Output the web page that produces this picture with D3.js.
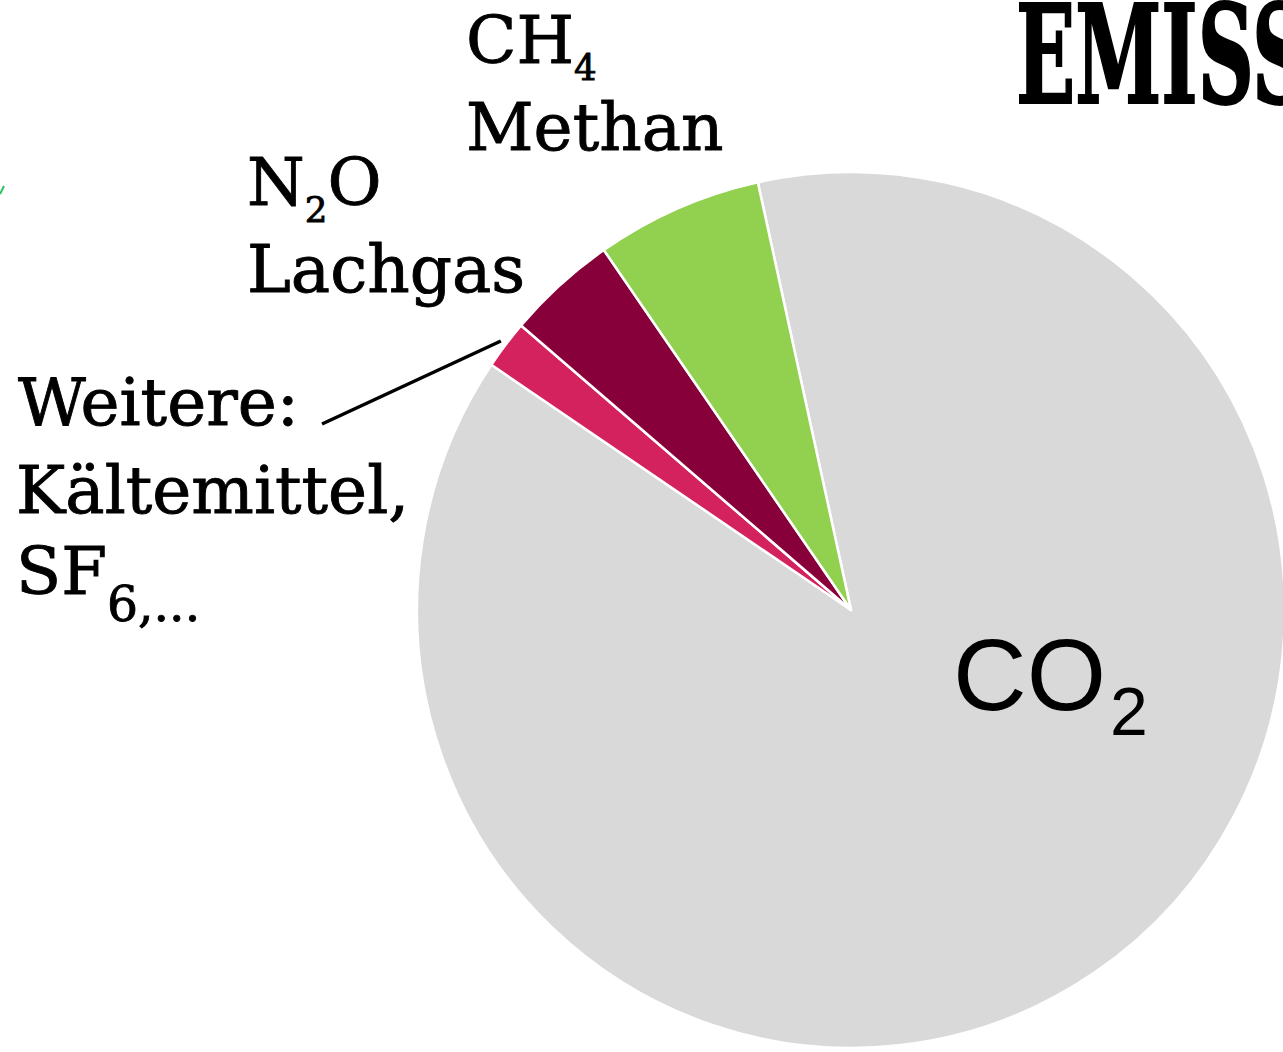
<!DOCTYPE html>
<html>
<head>
<meta charset="utf-8">
<script src="https://cdn.jsdelivr.net/npm/d3@7"></script>
<style>
  html, body { margin: 0; padding: 0; background: #ffffff; overflow: hidden; }
  svg { display: block; }
</style>
</head>
<body>
<script>
// ---- data ----
const categories = ["CO2", "Weitere", "N2O", "CH4"];
const values     = [87.9, 1.8, 4.1, 6.2];   // share in %
const colors     = ["#d9d9d9", "#d4225e", "#88003a", "#92d050"];
const titleText  = "EMISS";

const W = 1283, H = 1052;
const svg = d3.select("body").append("svg").attr("width", W).attr("height", H);

const cx = 851, cy = 610, rx = 434, ry = 438;
const startDeg = -12.4;
const start = startDeg * Math.PI / 180;

const pie = d3.pie().sort(null).value(d => d.v)
  .startAngle(start).endAngle(start + 2 * Math.PI);
const data = categories.map((c, i) => ({ c, v: values[i], col: colors[i] }));
const arcs = pie(data);
const arc = d3.arc().innerRadius(0).outerRadius(rx);

const g = svg.append("g")
  .attr("transform", `translate(${cx},${cy}) scale(1,${ry / rx})`);
g.selectAll("path").data(arcs).join("path")
  .attr("d", arc)
  .attr("fill", d => d.data.col)
  .attr("stroke", "#ffffff")
  .attr("stroke-width", 2.5)
  .attr("stroke-linejoin", "round");

// ---- labels ----
const serif = "'DejaVu Serif', serif";
function label(x, y, parts, size, subScale, subDy) {
  const t = svg.append("text").attr("x", x).attr("y", y)
    .attr("font-family", serif).attr("font-size", size).attr("fill", "#000")
    .attr("stroke", "#000").attr("stroke-width", 0.9);
  parts.forEach(p => {
    if (p.sub) {
      t.append("tspan").text(p.t).attr("font-size", size * subScale).attr("dy", subDy);
    } else {
      t.append("tspan").text(p.t).attr("dy", p.back ? -subDy : 0);
    }
  });
  return t;
}

label(466, 63, [{ t: "CH" }, { t: "4", sub: true }], 66, 0.54, 17);
label(466, 150, [{ t: "Methan" }], 66);
label(247, 205, [{ t: "N" }, { t: "2", sub: true }, { t: "O", back: true }], 66, 0.54, 17);
label(247, 292, [{ t: "Lachgas" }], 66);
label(18, 425, [{ t: "Weitere:" }], 66);
label(16, 513, [{ t: "Kältemittel," }], 66);
label(16, 594, [{ t: "SF" }, { t: "6,...", sub: true }], 66, 0.74, 27);

// CO2 label (sans)
const co = svg.append("text").attr("x", 953).attr("y", 710)
  .attr("font-family", "'Liberation Sans', Arial, sans-serif")
  .attr("font-size", 102).attr("fill", "#000");
co.append("tspan").text("CO");
co.append("tspan").text("2").attr("font-size", 68).attr("dy", 25).attr("dx", 4);

// leader line from "Weitere:" to its slice
const wArc = arcs[1];
const mid = (wArc.startAngle + wArc.endAngle) / 2;
const endR = rx + 6;
const ex = cx + endR * Math.sin(mid);
const ey = cy - endR * (ry / rx) * Math.cos(mid);
svg.append("line")
  .attr("x1", 322).attr("y1", 424).attr("x2", ex).attr("y2", ey)
  .attr("stroke", "#000").attr("stroke-width", 3.5);

// small green tick at left edge (background decoration)
svg.append("path").attr("d", "M0,194 L4,186")
  .attr("stroke", "#2cc060").attr("stroke-width", 2).attr("fill", "none");

// ---- title (cut off at the right edge) ----
const title = svg.append("text")
  .attr("font-family", "'DejaVu Serif Condensed', 'DejaVu Serif', serif")
  .attr("font-weight", "bold").attr("font-size", 136).attr("fill", "#000")
  .attr("stroke", "#000").attr("stroke-width", 2)
  .text(titleText);
const node = title.node();
const sub = node.getSubStringLength(0, 4);
const sx = 236 / sub;
title.attr("transform", `translate(1016,103) scale(${sx},1)`);
</script>
</body>
</html>
